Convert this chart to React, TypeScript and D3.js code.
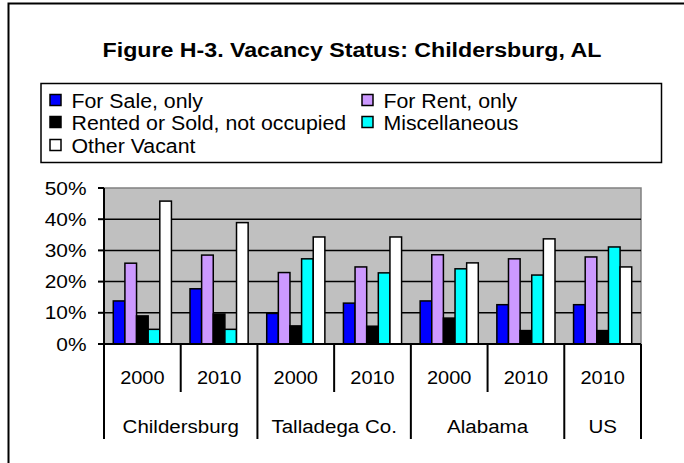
import React from 'react';
import * as d3 from 'd3';

// categories along the x axis
const years = ['2000', '2010', '2000', '2010', '2000', '2010', '2010'];
const places = ['Childersburg', 'Talladega Co.', 'Alabama', 'US'];
const placeSpans = [2, 2, 2, 1];

// series, in percent
const seriesNames = ['For Sale, only', 'For Rent, only', 'Rented or Sold, not occupied', 'Miscellaneous', 'Other Vacant'];
const forSale = [13.8, 17.7, 9.8, 13.1, 13.8, 12.6, 12.6];
const forRent = [25.9, 28.5, 22.9, 24.7, 28.6, 27.3, 27.9];
const rentedSold = [9.0, 9.6, 5.8, 5.7, 8.3, 4.3, 4.3];
const misc = [4.7, 4.7, 27.3, 22.8, 24.1, 22.1, 31.1];
const otherVacant = [45.8, 38.9, 34.3, 34.3, 26.0, 33.7, 24.7];
const yTicks = [0, 10, 20, 30, 40, 50];

const colors = ['#0000FF', '#CC99FF', '#000000', '#00FFFF', '#FFFFFF'];
const FONT = '"Liberation Sans", Arial, sans-serif';

function T({ x, y, sx = 1, size, anchor = 'start', bold = false, children }: any) {
  return (
    <text
      transform={`translate(${x},${y}) scale(${sx},1)`}
      textAnchor={anchor}
      fontFamily={FONT}
      fontSize={size}
      fontWeight={bold ? 'bold' : 'normal'}
      fill="#000"
    >
      {children}
    </text>
  );
}

export default function App() {
  const W = 684;
  const H = 463;
  const plot = { left: 104, right: 641, top: 188, bottom: 344 };
  const values = [forSale, forRent, rentedSold, misc, otherVacant];

  const idx = years.map((_, i) => i);
  const x0 = d3.scaleBand<number>().domain(idx).range([plot.left, plot.right]).padding(0);
  const pad = x0.bandwidth() * 0.121;
  const x1 = d3.scaleBand<number>().domain(seriesNames.map((_, i) => i)).range([pad, x0.bandwidth() - pad]).padding(0);
  const y = d3.scaleLinear().domain([0, 50]).range([plot.bottom, plot.top]);

  // group boundaries for the second axis row
  let acc = 0;
  const groups = places.map((p, i) => {
    const start = acc;
    acc += placeSpans[i];
    return { name: p, start, end: acc };
  });
  const groupEdges = new Set<number>([0, ...groups.map((g) => g.end)]);

  const legendCols = [50, 362];
  const legendRows = [100, 122, 145];
  const legendPos = [
    [0, 0],
    [1, 0],
    [0, 1],
    [1, 1],
    [0, 2],
  ];

  return (
    <svg width={W} height={H} style={{ position: 'absolute', left: 0, top: 0, display: 'block' }}>
      <rect x={0} y={0} width={W} height={H} fill="#fff" />
      {/* chart frame, runs off the right and bottom */}
      <rect x={8.5} y={3.5} width={W + 20} height={H + 20} fill="none" stroke="#000" strokeWidth={2} />

      <T x={352} y={57} size={20} sx={1.16} anchor="middle" bold>
        Figure H-3. Vacancy Status: Childersburg, AL
      </T>

      {/* legend */}
      <rect x={41} y={83.5} width={620.5} height={79} fill="#fff" stroke="#000" strokeWidth={1.5} />
      {seriesNames.map((name, i) => {
        const [c, r] = legendPos[i];
        const lx = legendCols[c];
        const ly = legendRows[r];
        return (
          <g key={name}>
            <rect x={lx} y={ly - 5.5} width={11} height={11} fill={colors[i]} stroke="#000" strokeWidth={1.5} />
            <T x={lx + 21.5} y={ly + 7.5} size={21} sx={1.015}>
              {name}
            </T>
          </g>
        );
      })}

      {/* plot area */}
      <rect x={plot.left} y={plot.top} width={plot.right - plot.left} height={plot.bottom - plot.top} fill="#C0C0C0" stroke="#808080" strokeWidth={1.5} />
      {yTicks.filter((t) => t > 0 && t < 50).map((t) => (
        <line key={t} x1={plot.left} x2={plot.right} y1={y(t)} y2={y(t)} stroke="#000" strokeWidth={1.5} />
      ))}

      {/* bars */}
      {values.map((vals, s) => (
        <g key={s}>
          {vals.map((v, i) => (
            <rect
              key={i}
              x={(x0(i) as number) + (x1(s) as number)}
              y={y(v)}
              width={x1.bandwidth()}
              height={y(0) - y(v)}
              fill={colors[s]}
              stroke="#000"
              strokeWidth={1.5}
            />
          ))}
        </g>
      ))}

      {/* y axis */}
      <line x1={plot.left} x2={plot.left} y1={plot.top} y2={plot.bottom} stroke="#000" strokeWidth={2} />
      {yTicks.map((t) => (
        <g key={t}>
          <line x1={plot.left - 6} x2={plot.left} y1={y(t)} y2={y(t)} stroke="#000" strokeWidth={2} />
          <T x={86.5} y={y(t) + 6.5} size={18} sx={1.16} anchor="end">
            {t}%
          </T>
        </g>
      ))}

      {/* x axis with two label rows */}
      <line x1={plot.left} x2={plot.right} y1={plot.bottom} y2={plot.bottom} stroke="#000" strokeWidth={2} />
      {d3.range(years.length + 1).map((i) => {
        const xx = i === years.length ? plot.right : (x0(i) as number);
        const long = groupEdges.has(i);
        return <line key={i} x1={xx} x2={xx} y1={plot.bottom} y2={long ? 439 : 392} stroke="#000" strokeWidth={2} />;
      })}
      {years.map((yr, i) => (
        <T key={i} x={(x0(i) as number) + x0.bandwidth() / 2} y={383.5} size={19} sx={1.05} anchor="middle">
          {yr}
        </T>
      ))}
      {groups.map((g) => (
        <T key={g.name} x={((x0(g.start) as number) + (g.end === years.length ? plot.right : (x0(g.end) as number))) / 2} y={432.5} size={19} sx={1.08} anchor="middle">
          {g.name}
        </T>
      ))}
    </svg>
  );
}
